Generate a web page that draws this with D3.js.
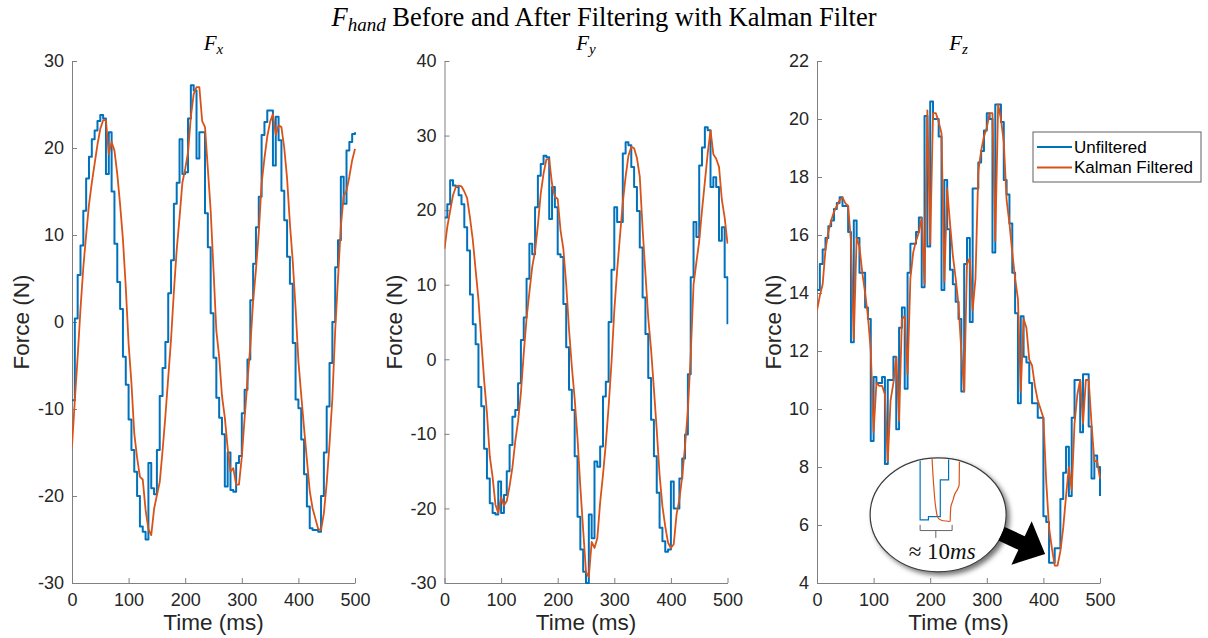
<!DOCTYPE html>
<html>
<head>
<meta charset="utf-8">
<script src="https://cdn.jsdelivr.net/npm/d3@7"></script>
<style>
  body { margin: 0; background: #fff; }
  svg { display: block; font-family: "Liberation Sans", Arial, sans-serif; }
  .axis .tick text { fill: #262626; font-size: 18px; }
  .axis path, .axis line { stroke: #808080; }
</style>
</head>
<body>
<svg id="chart" width="1208" height="638"></svg>
<script>
"use strict";

// signals are sampled every 5 ms
var sampleMs = 5;
var timeMs = d3.range(0, 501, sampleMs);

var xTicks = [0, 100, 200, 300, 400, 500];
var fxTicks = [-30, -20, -10, 0, 10, 20, 30];
var fyTicks = [-30, -20, -10, 0, 10, 20, 30, 40];
var fzTicks = [4, 6, 8, 10, 12, 14, 16, 18, 20, 22];

var fxRaw = [
  -9, 0.4, 5.4, 8.8, 12.8, 16.5, 19, 21, 22, 23.1,
  23.8, 23.4, 17, 21.8, 15, 9, 4.6, 1.5, -4, -7.2,
  -11.2, -14.7, -17.2, -20, -23.5, -24.1, -25, -16.2, -19.1, -19.8,
  -14.7, -8.5, -5.3, -2.3, 3.3, 7.1, 13.6, 16, 21, 17,
  17.2, 23.4, 27.2, 26.6, 18.8, 21.8, 21.8, 12.5, 8.6, 1,
  -4.1, -8.7, -11, -12.9, -18.9, -15, -19.3, -19.5, -16.2, -15.4,
  -10.5, -7.8, -4.3, 2.5, 6.7, 10.9, 14.4, 21.5, 23, 24.3,
  24.3, 18, 23.6, 20.9, 15.1, 11.7, 7.5, 4.4, -2.4, -8.9,
  -9.9, -13.5, -17.5, -21.2, -23.7, -23.9, -23.9, -24.1, -20, -15,
  -9.7, -4.7, 0, 6.3, 9.4, 16.7, 13.6, 19.7, 20.7, 21.6,
  21.8
];
var fxKalman = [
  -14.3, -9, -4, 1.5, 6.3, 10, 13.5, 16, 18.2, 20.4,
  22.2, 23.2, 23.2, 19.3, 20.7, 19.7, 17, 13.5, 9.5, 4,
  -2.5, -7, -12.8, -15.6, -17.8, -18.1, -21.6, -23.8, -24.5, -21.5,
  -19.9, -18.4, -14.8, -10.8, -6.4, -2, 3.5, 8.3, 12, 16,
  17.6, 19.5, 23.6, 26.2, 27, 27, 23.1, 22.4, 17.6, 12.8,
  6, -1, -4, -8.5, -11, -14.5, -17.2, -16.8, -18.7, -18.7,
  -15.5, -11, -6.8, -2.8, 2.4, 6, 10.3, 15.9, 18.8, 21.3,
  23, 23.9, 21.5, 22.6, 22.4, 20, 16.5, 11.3, 7, 1.6,
  -4.5, -8.4, -12.2, -15.8, -19.4, -21.4, -22.6, -23.8, -23.9, -22,
  -18.5, -14, -8.8, -1, 5, 11, 14.5, 15.1, 16.7, 18.6,
  19.9
];

var fyRaw = [
  19, 20.8, 24, 23.3, 23.1, 22, 20.8, 17.7, 14.6, 8.7,
  4.7, 2, -3.7, -6.3, -12, -16, -19.3, -20.6, -20.8, -16.4,
  -20.6, -18.2, -15, -11.5, -7.7, -6.8, -3.2, 2.6, 5.6, 10.8,
  15.5, 14.1, 20.4, 24.6, 26.2, 27.3, 27.1, 18.8, 23.1, 20.4,
  14.1, 13.7, 7.4, 1.6, -4.1, -6.8, -13, -21.1, -25.5, -28.5,
  -30, -20.8, -24, -13.7, -14.4, -11.7, -5, -3, 5, 12,
  20.4, 18.4, 18.4, 27.6, 29.1, 28.7, 25.8, 23.1, 19.9, 15,
  8.3, 3.4, -2.5, -8.1, -13, -17.9, -22.6, -24.4, -25.8, -25.5,
  -16.4, -20, -20, -16, -13.3, -10.1, -2, 11, 18.4, 16.4,
  26, 28.4, 31.1, 30.7, 23.1, 24.4, 23.1, 15.9, 17.7, 11,
  4.7
];
var fyKalman = [
  14.8, 17.8, 19.9, 22, 23.1, 23.3, 23.2, 22.5, 21.6, 19,
  16, 12, 8, 2.5, -2.8, -7.2, -13, -15.8, -19.5, -20.6,
  -18.5, -19.6, -19, -17, -14.5, -11, -8.3, -4.5, 0.8, 5.5,
  9, 12.4, 14.5, 18, 22.2, 24.9, 26.8, 26.8, 23.5, 21.8,
  21.5, 17.3, 14.8, 10.1, 4, -1, -5.3, -10.6, -17.1, -22.9,
  -28.5, -29.2, -24.5, -25.3, -24, -19.2, -15.5, -11.3, -6.3, -0.5,
  6.5, 11.9, 16.5, 21, 24.5, 27.3, 28.5, 28.3, 27, 24.5,
  17.5, 11.5, 5.5, 1.3, -4, -9.5, -15.5, -19.7, -22.4, -24.6,
  -25.3, -24.8, -20.8, -18.8, -15.7, -11.6, -6.8, 0.5, 10, 13,
  15.8, 20, 23.8, 27.6, 30.7, 27.5, 26.9, 25.8, 21.4, 19,
  15.5
];

var fzRaw = [
  14.1, 15, 15.5, 15.9, 16.3, 16.5, 16.9, 17.1, 17.3, 17,
  17, 16.1, 12.3, 16.5, 15.9, 14.7, 14.7, 13.5, 13.1, 8.9,
  11.1, 10.9, 10.9, 11.1, 8.1, 11, 11, 11.8, 9.3, 12.8,
  13.5, 10.7, 14.7, 15.7, 15.7, 16.1, 16.6, 14.2, 20.1, 15.6,
  20.6, 20, 20, 19.4, 14.1, 17.9, 16.2, 14.8, 14.3, 13.7,
  13.1, 10.6, 15, 15.9, 13, 17.6, 17.6, 18.5, 18.9, 19.6,
  20.2, 20, 15.4, 20.5, 20.5, 19.9, 17.9, 17.4, 16.4, 14.7,
  13.3, 10.2, 13.2, 11.8, 11.6, 10.9, 10.2, 10.2, 9.7, 9.7,
  6.3, 6.1, 4.7, 4.7, 5.2, 5.2, 6.9, 7.8, 8.7, 7,
  9.7, 11, 11, 9.2, 11.2, 11.2, 9.4, 7.6, 8.4, 8,
  7
];
var fzKalman = [
  13.4, 13.9, 14.3, 15.5, 16.1, 16.5, 16.8, 17, 17.2, 17.3,
  17.1, 17, 15.8, 12.4, 15.9, 15.6, 14.7, 14, 13.2, 12,
  9.2, 10.9, 10.8, 10.8, 10.5, 8.2, 10.3, 10.9, 11.8, 9.6,
  13.1, 13.2, 11.2, 14.5, 15.4, 15.8, 16.1, 16.6, 14.3, 20.3,
  15.7, 20.2, 20.2, 19.9, 19.5, 14.4, 17.6, 16.4, 15.3, 14.5,
  13.6, 12, 10.6, 15, 15.2, 13.4, 14.5, 18.2, 18.9, 19.4,
  19.7, 20.2, 20.2, 15.8, 20.5, 20, 19.2, 17.2, 16.4, 15.4,
  14.5, 13.8, 10.6, 13.1, 12.8, 11.7, 11.5, 10.8, 10.3, 10,
  9.7, 7.5, 5.9, 5.2, 4.6, 4.6, 5.1, 5.9, 7, 8,
  7.2, 9.5, 10.5, 11, 9.5, 11, 11, 9.5, 8.2, 8.2,
  7.6
];

var seriesNames = ["Unfiltered", "Kalman Filtered"];
var seriesColors = ["#0072BD", "#D95319"];

// magnified trough shown inside the callout (ms from the start of the trough, N above it)
var insetRawMs = [0, 0, 2.6, 6.3, 8.9];
var insetRawN = [7, 0, 0.33, 4, 7];
var insetKalmanMs = [3.6, 4.3, 4.9, 5.5, 6.8, 9.4, 9.6, 10.3, 11.0, 11.6, 12.2, 12.3];
var insetKalmanN = [7, 3.2, 1.2, 0.25, -0.07, -0.17, 1.3, 2.0, 2.7, 3.0, 3.5, 7];

var plotTop = 61;
var plotHeight = 522;
var plotWidth = 283;

var panels = [
  { sub: "x", raw: fxRaw, kalman: fxKalman, ticks: fxTicks, left: 72, labelOffset: 43 },
  { sub: "y", raw: fyRaw, kalman: fyKalman, ticks: fyTicks, left: 444.5, labelOffset: 43 },
  { sub: "z", raw: fzRaw, kalman: fzKalman, ticks: fzTicks, left: 817, labelOffset: 36 }
];

var svg = d3.select("#chart");
var defs = svg.append("defs");

defs
  .append("filter")
  .attr("id", "calloutShadow")
  .attr("x", "-20%")
  .attr("y", "-20%")
  .attr("width", "140%")
  .attr("height", "140%")
  .append("feDropShadow")
  .attr("dx", 3)
  .attr("dy", 3)
  .attr("stdDeviation", 2.5)
  .attr("flood-color", "#000")
  .attr("flood-opacity", 0.55);

// main title
var title = svg
  .append("text")
  .attr("x", 604)
  .attr("y", 26)
  .attr("text-anchor", "middle")
  .style("font-family", "'Liberation Serif', 'Times New Roman', serif")
  .style("font-size", "26.5px")
  .style("fill", "#000");
title
  .append("tspan")
  .style("font-style", "italic")
  .text("F");
title
  .append("tspan")
  .style("font-style", "italic")
  .style("font-size", "19px")
  .attr("dy", 5)
  .text("hand");
title
  .append("tspan")
  .attr("dy", -5)
  .text(" Before and After Filtering with Kalman Filter");

var drawPanel = function(panel, i) {
  var x = d3
    .scaleLinear()
    .domain([0, 500])
    .range([panel.left, panel.left + plotWidth]);
  var y = d3
    .scaleLinear()
    .domain(d3.extent(panel.ticks))
    .range([plotTop + plotHeight, plotTop]);

  var g = svg.append("g").attr("class", "panel panel-" + panel.sub);

  g.append("g")
    .attr("class", "axis")
    .attr("transform", "translate(0," + (plotTop + plotHeight) + ")")
    .call(
      d3
        .axisBottom(x)
        .tickValues(xTicks)
        .tickFormat(function(d) { return String(d); })
        .tickSizeInner(-5)
        .tickSizeOuter(0)
        .tickPadding(10)
    );

  g.append("g")
    .attr("class", "axis")
    .attr("transform", "translate(" + panel.left + ",0)")
    .call(
      d3
        .axisLeft(y)
        .tickValues(panel.ticks)
        .tickFormat(function(d) { return String(d); })
        .tickSizeInner(-5)
        .tickSizeOuter(0)
        .tickPadding(8)
    );

  defs
    .append("clipPath")
    .attr("id", "clip-" + panel.sub)
    .append("rect")
    .attr("x", panel.left)
    .attr("y", plotTop - 1)
    .attr("width", plotWidth + 1)
    .attr("height", plotHeight + 2);

  var rawLine = d3
    .line()
    .x(function(d, k) { return x(timeMs[k]); })
    .y(function(d) { return y(d); })
    .curve(d3.curveStepAfter);
  var kalmanLine = d3
    .line()
    .x(function(d, k) { return x(timeMs[k]); })
    .y(function(d) { return y(d); });

  var lines = g.append("g").attr("clip-path", "url(#clip-" + panel.sub + ")");
  lines
    .append("path")
    .attr("d", rawLine(panel.raw))
    .attr("fill", "none")
    .attr("stroke", seriesColors[0])
    .attr("stroke-width", 2)
    .attr("stroke-linejoin", "round");
  lines
    .append("path")
    .attr("d", kalmanLine(panel.kalman))
    .attr("fill", "none")
    .attr("stroke", seriesColors[1])
    .attr("stroke-width", 1.8)
    .attr("stroke-linejoin", "round");

  // subplot title
  var sub = g
    .append("text")
    .attr("x", panel.left + plotWidth / 2)
    .attr("y", 50)
    .attr("text-anchor", "middle")
    .style("font-family", "'Liberation Serif', 'Times New Roman', serif")
    .style("font-style", "italic")
    .style("font-size", "21px");
  sub.append("tspan").text("F");
  sub
    .append("tspan")
    .attr("dy", 4)
    .style("font-size", "15px")
    .text(panel.sub);

  g.append("text")
    .attr("x", panel.left + plotWidth / 2)
    .attr("y", 630)
    .attr("text-anchor", "middle")
    .style("font-size", "22.5px")
    .style("fill", "#262626")
    .text("Time (ms)");

  g.append("text")
    .attr(
      "transform",
      "translate(" + (panel.left - panel.labelOffset) + "," + (plotTop + plotHeight / 2) + ") rotate(-90)"
    )
    .attr("text-anchor", "middle")
    .style("font-size", "22.5px")
    .style("fill", "#262626")
    .text("Force (N)");

  return { x: x, y: y, g: g };
};

var drawn = panels.map(drawPanel);

// legend in the Fz panel
var legend = svg.append("g").attr("class", "legend");
legend
  .append("rect")
  .attr("x", 1033)
  .attr("y", 132)
  .attr("width", 168)
  .attr("height", 50)
  .attr("fill", "#fff")
  .attr("stroke", "#606060")
  .attr("stroke-width", 1);
seriesNames.forEach(function(name, i) {
  var rowY = 147 + i * 20.5;
  legend
    .append("line")
    .attr("x1", 1037)
    .attr("x2", 1072)
    .attr("y1", rowY)
    .attr("y2", rowY)
    .attr("stroke", seriesColors[i])
    .attr("stroke-width", 1.8);
  legend
    .append("text")
    .attr("x", 1074)
    .attr("y", rowY)
    .attr("dy", "0.35em")
    .style("font-size", "17px")
    .style("fill", "#000")
    .text(name);
});

// callout showing the ~10 ms lag
var fz = drawn[2];
var cx = fz.x(214);
var cy = fz.y(6.35);
var rx = 68;
var ry = 57;

var callout = svg.append("g").attr("class", "callout");
callout
  .append("ellipse")
  .attr("cx", cx)
  .attr("cy", cy)
  .attr("rx", rx)
  .attr("ry", ry)
  .attr("fill", "#fff")
  .attr("stroke", "#3a3a3a")
  .attr("stroke-width", 1.2)
  .attr("filter", "url(#calloutShadow)");

defs
  .append("clipPath")
  .attr("id", "clip-callout")
  .append("ellipse")
  .attr("cx", cx)
  .attr("cy", cy)
  .attr("rx", rx - 1)
  .attr("ry", ry - 1);

var insetX = d3
  .scaleLinear()
  .domain([0, 10])
  .range([cx - 18, cx + 14]);
var insetY = d3
  .scaleLinear()
  .domain([0, 6])
  .range([cy + 5, cy - 55]);

var inset = callout.append("g").attr("clip-path", "url(#clip-callout)");
inset
  .append("path")
  .attr(
    "d",
    d3
      .line()
      .x(function(d, k) { return insetX(insetRawMs[k]); })
      .y(function(d) { return insetY(d); })
      .curve(d3.curveStepAfter)(insetRawN)
  )
  .attr("fill", "none")
  .attr("stroke", seriesColors[0])
  .attr("stroke-width", 1.2);
inset
  .append("path")
  .attr(
    "d",
    d3
      .line()
      .x(function(d, k) { return insetX(insetKalmanMs[k]); })
      .y(function(d) { return insetY(d); })
      .curve(d3.curveMonotoneY)(insetKalmanN)
  )
  .attr("fill", "none")
  .attr("stroke", seriesColors[1])
  .attr("stroke-width", 1.2);

// bracket under the two minima
var bTop = insetY(-0.5);
var bBot = insetY(-1.07);
callout
  .append("path")
  .attr(
    "d",
    "M" + insetX(0) + "," + bTop +
      "V" + bBot +
      "H" + insetX(10) +
      "V" + bTop +
      "M" + insetX(4.9) + "," + bBot +
      "V" + insetY(-1.8)
  )
  .attr("fill", "none")
  .attr("stroke", "#666")
  .attr("stroke-width", 1);

var lagText = callout
  .append("text")
  .attr("x", cx + 4)
  .attr("y", cy + 44)
  .attr("text-anchor", "middle")
  .style("font-family", "'Liberation Serif', 'Times New Roman', serif")
  .style("font-size", "23px")
  .style("fill", "#111");
lagText.append("tspan").text("\u2248 10");
lagText
  .append("tspan")
  .style("font-style", "italic")
  .text("ms");

// block arrow pointing at the trough
var tipX = fz.x(403);
var tipY = fz.y(5.0);
var arrowAngle = 25;
var arrowLen = 48;
var headLen = 26;
var headHalf = 24;
var shaftHalf = 7.5;
var arrowPts = [
  [0, 0],
  [-headLen, -headHalf],
  [-headLen, -shaftHalf],
  [-arrowLen, -shaftHalf],
  [-arrowLen, shaftHalf],
  [-headLen, shaftHalf],
  [-headLen, headHalf]
];
callout
  .append("polygon")
  .attr("points", arrowPts.map(function(p) { return p.join(","); }).join(" "))
  .attr("transform", "translate(" + tipX + "," + tipY + ") rotate(" + arrowAngle + ")")
  .attr("fill", "#000");
</script>
</body>
</html>
